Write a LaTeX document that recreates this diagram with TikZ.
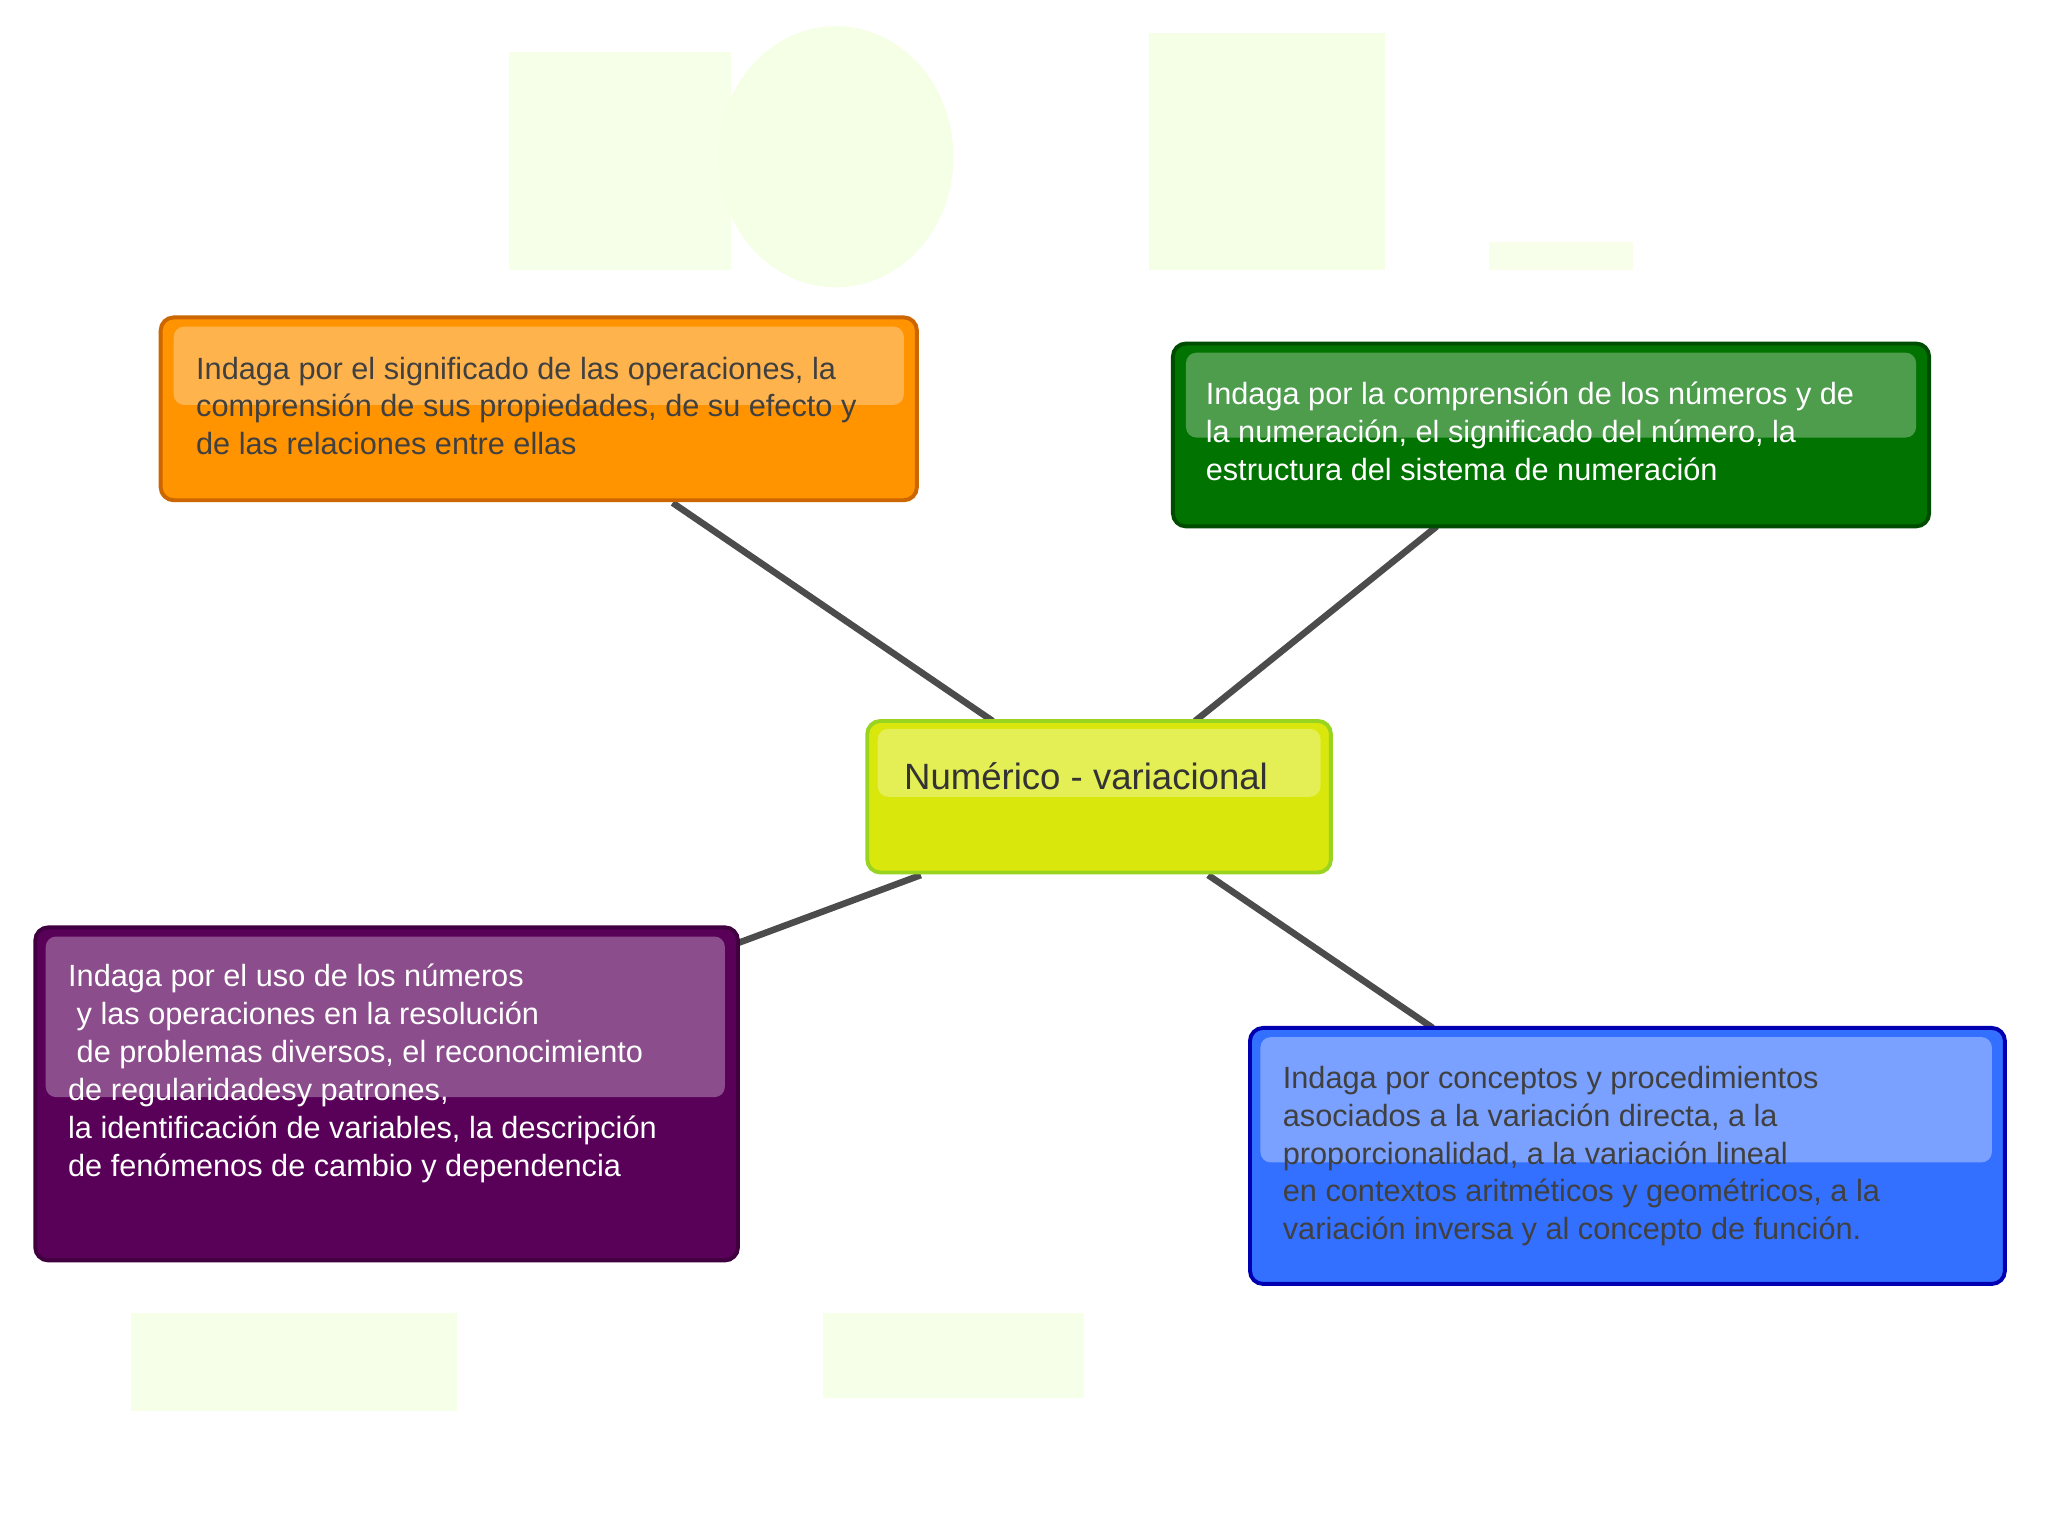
\documentclass[tikz,border=0pt]{standalone}
\usepackage{fontspec}
\setmainfont{Liberation Sans}
\begin{document}
\begin{tikzpicture}[x=1pt,y=-1pt,
  box/.style={rounded corners=10pt,line width=3pt},
  txt/.style={anchor=north west,align=left,font=\fontsize{23.5}{29}\selectfont,inner sep=0pt},
  conn/.style={line width=5pt,draw=black!70}]
\useasboundingbox (0,0) rectangle (1568,1176);
\fill[white] (0,0) rectangle (1568,1176);
% faint background
\fill[green!40!yellow!9] (390,40) rectangle (560,207);
\fill[green!40!yellow!10] (640,120) ellipse[x radius=90,y radius=100];
\fill[green!40!yellow!10] (880,25) rectangle (1060,207);
\fill[green!40!yellow!8] (1140,185) rectangle (1250,207);
\fill[green!40!yellow!9] (100,1005) rectangle (350,1080);
\fill[green!40!yellow!9] (630,1005) rectangle (830,1070);
% connectors
\coordinate (o1) at (515,385); \coordinate (o2) at (760,552);
\coordinate (g1) at (1100,403); \coordinate (g2) at (915,552);
\coordinate (p1) at (565,722); \coordinate (p2) at (705,670);
\coordinate (b1) at (925,670); \coordinate (b2) at (1097,787);
\draw[conn] (o1)--(o2); \draw[conn] (g1)--(g2);
\draw[conn] (p1)--(p2); \draw[conn] (b1)--(b2);
% boxes
\draw[box,fill=orange!85!yellow,draw=orange!80!black] (123,243) rectangle (702,383);
\fill[white,opacity=0.3,rounded corners=8pt] (133,250) rectangle (692,310);
\draw[box,fill=green!45!black,draw=green!30!black] (898,263) rectangle (1477,403);
\fill[white,opacity=0.3,rounded corners=8pt] (908,270) rectangle (1467,335);
\draw[box,fill=yellow!85!green,draw=yellow!60!green] (664,552) rectangle (1019,668);
\fill[white,opacity=0.3,rounded corners=8pt] (672,558) rectangle (1011,610);
\draw[box,fill=violet!70!black,draw=violet!50!black] (27,710) rectangle (565,965);
\fill[white,opacity=0.3,rounded corners=8pt] (35,717) rectangle (555,840);
\draw[box,fill=blue!70!cyan!80!white,draw=blue!70!black] (957,787) rectangle (1535,983);
\fill[white,opacity=0.35,rounded corners=8pt] (965,794) rectangle (1525,890);
% texts
\node[txt,text=black!75] (ot) at (150,273) {Indaga por el significado de las operaciones, la\\comprensión de sus propiedades, de su efecto y\\de las relaciones entre ellas};
\node[txt,text=white] (gt) at (923,292) {Indaga por la comprensión de los números y de\\la numeración, el significado del número, la\\estructura del sistema de numeración};
\node[txt,text=black!80,font=\fontsize{28}{30}\selectfont] (ct) at (692,584) {Numérico - variacional};
\node[txt,text=white] (pt) at (52,738) {Indaga por el uso de los números\\\ y las operaciones en la resolución\\\ de problemas diversos, el reconocimiento\\de regularidadesy patrones,\\la identificación de variables, la descripción\\de fenómenos de cambio y dependencia};
\node[txt,text=black!75] (bt) at (982,816) {Indaga por conceptos y procedimientos\\asociados a la variación directa, a la\\proporcionalidad, a la variación lineal\\en contextos aritméticos y geométricos, a la\\variación inversa y al concepto de función.};
\end{tikzpicture}
\end{document}
